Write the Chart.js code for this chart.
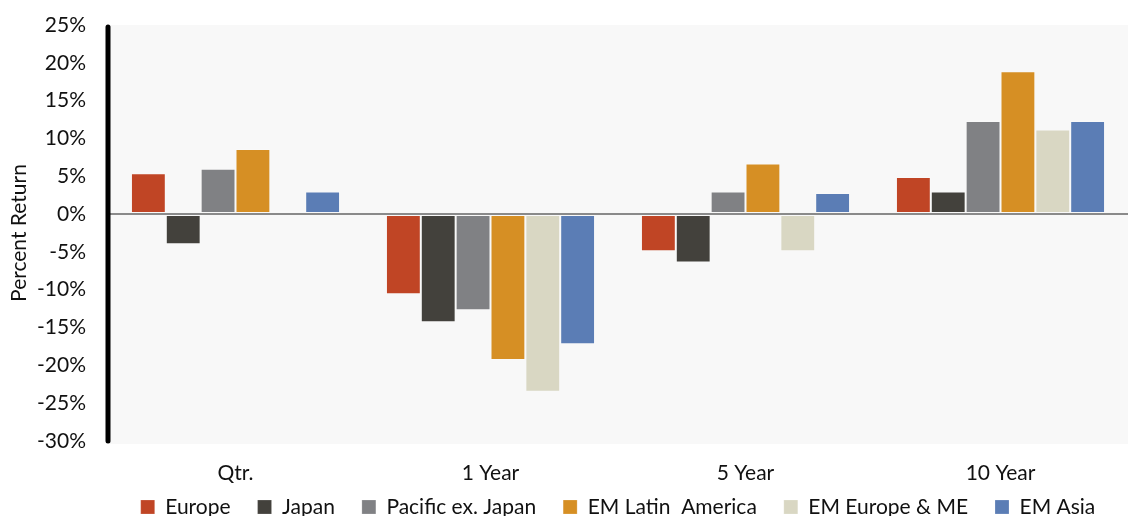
<!DOCTYPE html>
<html>
<head>
<meta charset="utf-8">
<script src="https://cdn.jsdelivr.net/npm/chart.js@4.4.1/dist/chart.umd.min.js"></script>
<style>
  html, body { margin: 0; padding: 0; background: #ffffff; }
  #wrap { width: 1128px; height: 516px; position: relative; }
</style>
</head>
<body>
<div id="wrap"><canvas id="c" width="1128" height="516"></canvas></div>
<script>
const categories = ['Qtr.', '1 Year', '5 Year', '10 Year'];
const seriesNames = ['Europe', 'Japan', 'Pacific ex. Japan', 'EM Latin  America', 'EM Europe & ME', 'EM Asia'];
const europe       = [5.4, -10.6, -4.9, 4.9];
const japan        = [-4.0, -14.3, -6.4, 3.0];
const pacificExJp  = [6.0, -12.7, 3.0, 12.3];
const emLatAm      = [8.6, -19.3, 6.7, 18.9];
const emEuropeME   = [0.4, -23.5, -4.9, 11.2];
const emAsia       = [3.0, -17.2, 2.8, 12.3];
const yTicks = [25, 20, 15, 10, 5, 0, -5, -10, -15, -20, -25, -30];
const colors = ['#C04525', '#43413C', '#808184', '#D68F24', '#D9D7C3', '#5B7DB5'];

const seriesValues = [europe, japan, pacificExJp, emLatAm, emEuropeME, emAsia];

const LEGEND_H = 30;
const LEGEND_CENTER_Y = 507;

const bgPlugin = {
  id: 'plotBg',
  afterInit(chart) {
    const lg = chart.legend;
    if (lg && !lg._patched) {
      const orig = lg.fit;
      lg.fit = function () { orig.call(this); this.height = LEGEND_H; };
      lg._patched = true;
    }
  },
  afterLayout(chart) {
    const lg = chart.legend;
    if (!lg) return;
    const lo = lg.options.labels;
    const fs = lo.font.size;
    const itemH = Math.max(fs, lo.boxHeight);
    const shift = lg.top + lo.padding + itemH / 2 - LEGEND_CENTER_Y;
    lg.top -= shift;
    lg.bottom = chart.height;
    lg.height = lg.bottom - lg.top;
  },
  beforeDraw(chart) {
    const { ctx, chartArea } = chart;
    ctx.save();
    ctx.fillStyle = '#F8F8F8';
    ctx.fillRect(chartArea.left, chartArea.top, chart.width - chartArea.left, chartArea.bottom - chartArea.top + 3);
    ctx.restore();
  },
  afterDraw(chart) {
    const { ctx, chartArea } = chart;
    ctx.save();
    ctx.strokeStyle = '#000000';
    ctx.lineWidth = 5;
    ctx.lineCap = 'round';
    ctx.beginPath();
    ctx.moveTo(chartArea.left, chartArea.top + 2);
    ctx.lineTo(chartArea.left, chartArea.bottom);
    ctx.stroke();
    ctx.restore();
  }
};

new Chart(document.getElementById('c'), {
  type: 'bar',
  data: {
    labels: categories,
    datasets: seriesNames.map((name, i) => ({
      label: name,
      data: seriesValues[i],
      backgroundColor: colors[i],
      borderColor: 'rgba(255,255,255,0.2)',
      borderWidth: 1,
      borderSkipped: false,
      categoryPercentage: 0.82,
      barPercentage: 1.0
    }))
  },
  options: {
    responsive: false,
    animation: false,
    layout: { padding: { top: 25, right: 0, left: 0, bottom: 0 } },
    plugins: {
      tooltip: { enabled: false },
      legend: {
        position: 'bottom',
        fullSize: false,
        labels: {
          font: { family: 'Lato', size: 21 },
          color: '#111111',
          boxWidth: 14,
          boxHeight: 14,
          padding: 27,
          useBorderRadius: false
        }
      }
    },
    scales: {
      x: {
        afterFit(scale) { scale.height = 45; },
        grid: { display: false, drawTicks: false },
        border: { display: false },
        ticks: {
          font: { family: 'Lato', size: 21 },
          color: '#111111',
          padding: 20
        }
      },
      y: {
        min: -30,
        max: 25,
        afterFit(scale) {
          scale.width = 108;
          scale.paddingTop = 0;
          scale.paddingBottom = 0;
        },
        afterBuildTicks(scale) { scale.ticks = yTicks.map(v => ({ value: v })); },
        border: { display: false },
        grid: {
          drawTicks: false,
          color: ctx => (ctx.tick && ctx.tick.value === 0 ? '#8A8A8A' : 'rgba(0,0,0,0)'),
          lineWidth: 2
        },
        ticks: {
          font: { family: 'Lato', size: 21 },
          color: '#111111',
          padding: 22,
          callback: v => v + '%'
        },
        title: {
          display: true,
          text: 'Percent Return',
          font: { family: 'Lato', size: 21 },
          color: '#111111',
          padding: { top: 7, bottom: 0 }
        }
      }
    }
  },
  plugins: [bgPlugin]
});
</script>
</body>
</html>
